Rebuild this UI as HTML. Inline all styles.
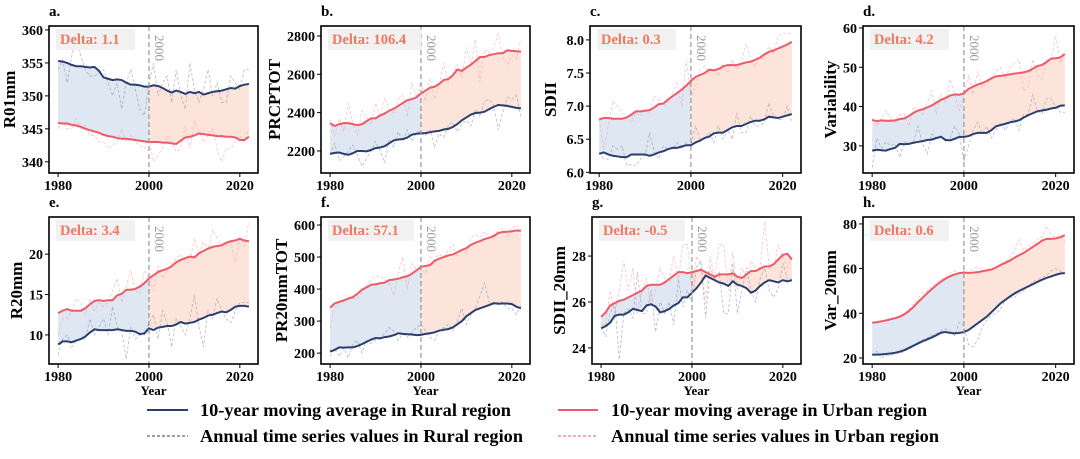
<!DOCTYPE html>
<html><head><meta charset="utf-8">
<style>
html,body{margin:0;padding:0;background:#fff;}
svg{display:block;font-family:"Liberation Serif",serif;}
</style></head>
<body>
<svg id="fig" width="1080" height="459" viewBox="0 0 1080 459" xmlns="http://www.w3.org/2000/svg"></svg>
<script>
const years = Array.from({length:43},(_,i)=>1980+i);
const xTicks = [1980,2000,2020];

const aRuralMA=[355.3,355.2,355,354.7,354.5,354.5,354.4,354.3,354.4,353.8,352.8,352.6,352.4,352.5,352.4,352,351.7,351.7,351.6,351.4,351.4,351.6,351.5,351.2,350.8,350.5,350.8,350.6,350.3,350.6,350.4,350.6,350.2,350.4,350.6,350.7,350.8,351,351.2,351.1,351.5,351.7,351.8];
const aUrbanMA=[345.9,345.8,345.8,345.6,345.5,345.3,345,344.8,344.6,344.4,344.1,343.9,343.8,343.6,343.5,343.5,343.4,343.3,343.2,343.1,343,343,343,342.9,342.9,342.8,342.7,343.2,343.7,343.8,344,344.3,344.2,344.1,344,343.9,343.9,343.8,343.8,343.7,343.3,343.3,343.8];
const aRuralAnn=[354,355.5,352,356,359.5,356,354,353,353,353.5,354,352,350,352,348,352,354,351,348,347,352,355,350,352,353,349,354,350,348,355,351,349,351,354,350,352,349,349,353,352,351,354,354];
const aUrbanAnn=[345,346,345,345,346.5,345,345.5,344,344,343,343,342,342.5,343,345,343,344,343,342.5,342,343.5,340,341,342,344,343,341.5,342,345.5,342,346,344.5,343,344,345,342,340,342,342,343,344,343,345];

const bRuralMA=[2185,2190,2192,2185,2180,2188,2200,2200,2198,2205,2215,2218,2225,2240,2255,2260,2262,2270,2285,2290,2292,2293,2298,2302,2305,2312,2315,2325,2340,2360,2375,2390,2398,2400,2405,2418,2430,2440,2438,2435,2430,2425,2422];
const bUrbanMA=[2345,2330,2340,2345,2345,2340,2335,2340,2355,2370,2370,2385,2395,2410,2420,2435,2450,2465,2470,2480,2500,2515,2530,2535,2550,2570,2575,2595,2625,2618,2635,2650,2670,2690,2690,2700,2705,2710,2710,2725,2722,2720,2718];
const bRuralAnn=[2180,2240,2150,2170,2200,2230,2180,2120,2160,2200,2250,2200,2140,2260,2220,2300,2250,2310,2250,2300,2300,2280,2310,2220,2290,2270,2330,2350,2300,2340,2360,2330,2420,2380,2460,2470,2440,2310,2400,2480,2470,2490,2380];
const bUrbanAnn=[2360,2280,2370,2300,2450,2340,2280,2410,2380,2340,2450,2380,2480,2420,2400,2470,2490,2380,2560,2480,2560,2460,2580,2470,2540,2660,2560,2600,2650,2580,2740,2650,2780,2560,2730,2710,2740,2810,2690,2650,2700,2680,2780];

const cRuralMA=[6.28,6.3,6.27,6.25,6.24,6.23,6.23,6.27,6.27,6.27,6.27,6.25,6.27,6.3,6.32,6.35,6.37,6.37,6.39,6.41,6.41,6.45,6.48,6.52,6.54,6.59,6.6,6.6,6.64,6.68,6.7,6.7,6.73,6.76,6.78,6.78,6.8,6.84,6.83,6.82,6.84,6.86,6.88];
const cUrbanMA=[6.8,6.82,6.82,6.81,6.81,6.81,6.83,6.87,6.92,6.92,6.93,6.94,6.98,7.03,7.04,7.1,7.15,7.2,7.25,7.31,7.38,7.44,7.47,7.5,7.55,7.54,7.56,7.6,7.62,7.62,7.62,7.64,7.66,7.67,7.7,7.73,7.78,7.82,7.84,7.87,7.9,7.93,7.97];
const cRuralAnn=[6.3,6.2,6.2,6.4,6.35,6.4,6.1,6.12,6.1,6.2,6.25,6.6,6.3,6.2,6.4,6.35,6.35,6.45,6.35,6.45,6.4,6.7,6.5,6.5,6.6,6.45,6.7,6.5,6.65,6.5,6.9,6.6,6.6,6.85,6.7,6.7,6.75,7.05,6.85,6.8,6.8,7.0,6.75];
const cUrbanAnn=[6.8,6.35,6.7,7.08,7.0,6.9,6.85,6.75,6.9,6.85,6.95,6.9,7.15,7.1,7.0,7.05,7.2,7.35,7.0,7.7,7.15,7.3,7.55,7.6,7.5,7.55,7.45,7.65,7.5,7.7,7.55,7.65,7.95,7.7,7.6,7.75,7.7,7.9,7.8,8.05,8.1,8.1,8.1];

const dRuralMA=[28.8,29,28.9,28.8,29.2,29.5,30.5,30.4,30.5,30.8,31,31.2,31.5,31.6,32,32.3,31.5,31.4,31.8,32.3,32.3,32.5,33,33.3,33.3,33.3,34,35,35.3,35.6,36,36.2,36.5,37.2,37.8,38.3,38.8,39,39.2,39.5,39.7,40.2,40.3];
const dUrbanMA=[36.6,36.3,36.5,36.4,36.4,36.5,36.8,37,37.6,38.4,39,39.3,39.8,40.3,41,41.7,42.2,42.8,43.1,43,43.4,44.5,45.1,45.6,46,46.5,47.2,47.7,47.8,48,48.2,48.4,48.5,48.7,49,49.6,50.3,50.6,51.3,52.2,52.3,52.5,53.4];
const dRuralAnn=[24.5,32,29.5,31,30,30.5,27,31,30.5,31,35,30.5,28,33,32,32.5,31,32,35,33,26,30,34,36,33,35,32,34,36,34,36,37,34,38,38,43,39,38,42,42,40,38.5,38.5];
const dUrbanAnn=[37,35,37,39,37,36,38,38,35,40,39,38,41,44,38,43,41,47,43,39,43,48,43,49,45,46,47,49,50,47,50,51,52,44,45,52,48,47,52,52,58,51,54];

const eRuralMA=[8.8,9.2,9.2,9.1,9.3,9.5,9.8,10.3,10.7,10.6,10.6,10.6,10.6,10.7,10.6,10.5,10.5,10.4,10.1,10.2,10.8,10.6,10.9,11,11.1,11.1,11.3,11.6,11.4,11.5,11.6,11.9,12.1,12.4,12.5,12.7,12.9,12.8,13.1,13.5,13.6,13.6,13.5];
const eUrbanMA=[12.7,13,13.2,13,13,13,13.3,13.8,14.2,14.3,14.2,14.3,14.3,14.9,15.1,15.6,15.6,15.7,16,16.4,17,17.4,17.8,18,18.2,18.5,19,19.3,19.5,19.7,19.6,20.1,20.4,20.7,20.9,21,21.1,21.4,21.6,21.7,21.9,21.7,21.6];
const eRuralAnn=[7.5,9.5,10,8.5,9.3,9.5,9.5,12,10,11,12,10,13.5,11,10.5,7,11,9.5,10,10,11.5,12.5,9.5,13,11.5,8.5,12,11,10,12,15,11,8.5,13,12,14.5,13,12,11.5,13,14,14,14];
const eUrbanAnn=[10,12,12,13,14.5,14,12.5,14.5,13,14,13.5,14,15.5,17,14,16,18,15.5,15,18,17,15.5,18.5,17,18,19,19.5,20,19,19,22,20,21.5,20.5,23,22,21,21,21.5,19,22,21,24];

const fRuralMA=[205,210,218,217,218,218,222,228,235,242,247,246,250,252,256,262,260,259,258,256,257,260,262,265,270,273,275,280,290,300,315,325,335,340,345,350,356,354,355,355,353,345,340];
const fUrbanMA=[342,355,360,365,370,375,385,398,405,413,415,418,420,428,430,432,437,440,448,458,470,472,475,488,495,500,505,508,515,522,528,538,545,550,556,560,565,575,578,579,580,583,582];
const fRuralAnn=[190,215,190,215,185,230,240,200,240,230,240,250,260,280,270,240,260,250,265,280,290,270,250,240,270,280,290,270,300,340,290,320,340,380,420,360,350,360,360,340,340,320,350];
const fUrbanAnn=[280,340,360,360,380,370,370,390,410,430,440,440,430,420,380,450,500,400,480,460,460,450,500,490,510,500,520,540,500,530,510,560,570,560,580,560,570,580,590,560,590,600,580];

const gRuralMA=[24.85,24.95,25.1,25.4,25.45,25.45,25.55,25.7,25.65,25.6,25.85,25.9,25.8,25.55,25.6,25.7,25.85,25.95,26.2,26.2,26.4,26.6,26.85,27.15,27.05,26.95,26.85,26.8,26.7,26.9,26.75,26.7,26.6,26.4,26.5,26.7,26.85,26.95,26.9,26.85,26.95,26.9,26.95];
const gUrbanMA=[25.35,25.55,25.85,25.95,26.05,26.1,26.2,26.3,26.4,26.5,26.7,26.75,26.75,26.75,26.85,27,27.15,27.3,27.3,27.25,27.3,27.35,27.4,27.3,27.2,27.1,27.2,27.2,27.2,27.25,27.1,27.05,27.2,27.35,27.35,27.45,27.55,27.55,27.65,27.85,28.05,28.1,27.85];
const gRuralAnn=[24.9,24.5,25.5,26,23.5,25.5,25.7,25.3,27.3,25.5,25.5,26.5,24.7,26,25.5,26,25,27,25.8,26.5,26,27.5,27.8,25.3,27.5,27,27.3,25.5,25.5,27.7,25.5,26.5,27.5,26.5,26,27,27.5,26.5,26.2,26.6,27.7,27,27];
const gUrbanAnn=[25,25,26.5,25.5,26.5,27.8,26.5,27.5,25.5,26.5,27,25.8,26.5,27.5,27,27,28,27,28.5,28.5,26.5,28,27.5,26,28,27,28.5,28.5,26.5,28.2,26.5,27.5,27,27.8,27.5,27.5,29.5,27.5,27.5,28.5,28,27.5,28];

const hRuralMA=[21.5,21.5,21.6,21.8,22,22.3,22.8,23.5,24.5,25.5,26.5,27.5,28.3,29.2,30.2,31.3,31.6,31.2,31,31.2,31.6,32.5,34,35.5,37,38.5,40.5,42.5,44.5,46,47.5,48.8,50,51,52,53,54,55,55.8,56.5,57.2,57.8,58];
const hUrbanMA=[35.8,36,36.4,36.8,37.3,37.8,38.5,39.5,41,42.8,45,47,49,50.8,52.6,54.2,55.5,56.6,57.4,58,58.2,58.1,58.2,58.4,58.8,59.2,59.6,60.5,61.6,62.6,63.6,64.8,66,67,68.3,69.7,71,72.5,73.3,73.3,73.5,74,75];
const hRuralAnn=[21,23,20,21,21,22,22,23,24,25,27,28,29,30,31,32,33,32,30,36,34,26,25,28,34,37,39,40,42,46,47,47,49,50,52,54,55,56,57,59,60,59,58];
const hUrbanAnn=[36,35.5,36.5,37,38,38,39,40,42,44,47,49,50,52,54,55,56,58,59,58,59,58,60,61,59,59,60,61,62,63,65,68,73,68,70,71,73,74,79,75,74,75,72];

const panelLetters=['a.','b.','c.','d.','e.','f.','g.','h.'];
const panelYLabels=['R01mm','PRCPTOT','SDII','Variability','R20mm','PR20mmTOT','SDII_20mm','Var_20mm'];
const panelDeltas=['Delta: 1.1','Delta: 106.4','Delta: 0.3','Delta: 4.2','Delta: 3.4','Delta: 57.1','Delta: -0.5','Delta: 0.6'];
const yTicksA=[340,345,350,355,360], yTicksB=[2200,2400,2600,2800], yTicksC=[6.0,6.5,7.0,7.5,8.0], yTicksD=[30,40,50,60];
const yTicksE=[10,15,20], yTicksF=[200,300,400,500,600], yTicksG=[24,26,28], yTicksH=[20,40,60,80];

const NS='http://www.w3.org/2000/svg';
const svg=document.getElementById('fig');
function mk(tag,attrs,parent){const e=document.createElementNS(NS,tag);for(const k in attrs)e.setAttribute(k,attrs[k]);(parent||svg).appendChild(e);return e;}

const panels=[
 {L:49,R:258,T:26,B:173,y0:338.3,y1:360.6,ticks:yTicksA,fmt:v=>v,ru:aRuralMA,ur:aUrbanMA,ra:aRuralAnn,ua:aUrbanAnn},
 {L:321,R:530,T:26,B:173,y0:2085,y1:2852,ticks:yTicksB,fmt:v=>v,ru:bRuralMA,ur:bUrbanMA,ra:bRuralAnn,ua:bUrbanAnn},
 {L:590,R:801,T:26,B:173,y0:5.99,y1:8.21,ticks:yTicksC,fmt:v=>v.toFixed(1),ru:cRuralMA,ur:cUrbanMA,ra:cRuralAnn,ua:cUrbanAnn},
 {L:863,R:1074,T:26,B:173,y0:23.1,y1:60.5,ticks:yTicksD,fmt:v=>v,ru:dRuralMA,ur:dUrbanMA,ra:dRuralAnn,ua:dUrbanAnn},
 {L:49,R:258,T:217,B:364,y0:6.4,y1:24.6,ticks:yTicksE,fmt:v=>v,ru:eRuralMA,ur:eUrbanMA,ra:eRuralAnn,ua:eUrbanAnn},
 {L:321,R:530,T:217,B:364,y0:166,y1:625,ticks:yTicksF,fmt:v=>v,ru:fRuralMA,ur:fUrbanMA,ra:fRuralAnn,ua:fUrbanAnn},
 {L:592,R:801,T:217,B:364,y0:23.3,y1:29.7,ticks:yTicksG,fmt:v=>v,ru:gRuralMA,ur:gUrbanMA,ra:gRuralAnn,ua:gUrbanAnn},
 {L:863,R:1074,T:217,B:364,y0:17.3,y1:83.1,ticks:yTicksH,fmt:v=>v,ru:hRuralMA,ur:hUrbanMA,ra:hRuralAnn,ua:hUrbanAnn}
];

panels.forEach((p,pi)=>{
  const g=mk('g',{});
  
  
  const xs=v=>p.L+(v-1978)/(2024-1978)*(p.R-p.L);
  const ys=v=>p.B-(v-p.y0)/(p.y1-p.y0)*(p.B-p.T);
  const clipId='clip'+pi;
  const cp=mk('clipPath',{id:clipId},g);mk('rect',{x:p.L,y:p.T,width:p.R-p.L,height:p.B-p.T},cp);
  const inner=mk('g',{'clip-path':'url(#'+clipId+')'},g);
  function band(from,to,color,name){
    const idx=years.map((y,i)=>i).filter(i=>years[i]>=from&&years[i]<=to);
    let d='M'+idx.map(i=>xs(years[i])+','+ys(p.ru[i])).join(' L');
    d+=' L'+idx.slice().reverse().map(i=>xs(years[i])+','+ys(p.ur[i])).join(' L')+' Z';
    const e=mk('path',{d:d,fill:color,stroke:'none'},inner);
    
    
  }
  band(1980,2000,'#dfe7f3','pre-2000-gap-fill');
  band(2000,2022,'#fde4da','post-2000-gap-fill');
  function line(arr,attrs,name){
    const d='M'+arr.map((v,i)=>xs(years[i])+','+ys(v)).join(' L');
    const e=mk('path',Object.assign({d:d,fill:'none'},attrs),inner);
    
    
  }
  line(p.ra,{stroke:'#8a93ad','stroke-width':0.8,'stroke-dasharray':'3,2',opacity:0.65},'rural-annual-line');
  line(p.ua,{stroke:'#f2a0ac','stroke-width':0.8,'stroke-dasharray':'3,2',opacity:0.65},'urban-annual-line');
  line(p.ru,{stroke:'#2b3f6e','stroke-width':2},'rural-moving-average-line');
  line(p.ur,{stroke:'#ef5a68','stroke-width':2},'urban-moving-average-line');
  const vl=mk('line',{x1:xs(2000),x2:xs(2000),y1:p.T,y2:p.B,stroke:'#999','stroke-width':1.2,'stroke-dasharray':'5,3'},g);
  
  
  const vt=mk('text',{x:0,y:0,transform:'translate('+(xs(2000)+6)+','+(p.T+9)+') rotate(90)','font-size':13,fill:'#999'},g);
  vt.textContent='2000';
  
  
  const txt=panelDeltas[pi];
  const bw=txt.length*7.1+8;
  const db=mk('rect',{x:p.L+7,y:p.T+3,width:bw,height:21,fill:'#efefef',opacity:0.9},g);
  
  
  const dt=mk('text',{x:p.L+11,y:p.T+18,'font-size':14.5,'font-weight':'bold',fill:'#f2775f'},g);
  dt.textContent=txt;
  
  
  const fr=mk('rect',{x:p.L,y:p.T,width:p.R-p.L,height:p.B-p.T,fill:'none',stroke:'#000','stroke-width':1.6},g);
  
  
  xTicks.forEach(t=>{
    mk('line',{x1:xs(t),x2:xs(t),y1:p.B,y2:p.B+4,stroke:'#000','stroke-width':1},g);
    const tt=mk('text',{x:xs(t),y:p.B+17,'text-anchor':'middle','font-size':14,'font-weight':'bold'},g);
    tt.textContent=t;
    
    
  });
  p.ticks.forEach(t=>{
    mk('line',{x1:p.L-4,x2:p.L,y1:ys(t),y2:ys(t),stroke:'#000','stroke-width':1},g);
    const tt=mk('text',{x:p.L-6,y:ys(t)+5,'text-anchor':'end','font-size':14,'font-weight':'bold'},g);
    tt.textContent=p.fmt(t);
    
    
  });
  const maxLen=Math.max(...p.ticks.map(t=>String(p.fmt(t)).length));
  const yl=mk('text',{x:0,y:0,transform:'translate('+(p.L-13-maxLen*7)+','+((p.T+p.B)/2)+') rotate(-90)','text-anchor':'middle','font-size':17,'font-weight':'bold'},g);
  yl.textContent=panelYLabels[pi];
  
  
  const pl=mk('text',{x:p.L,y:p.T-10,'font-size':15,'font-weight':'bold'},g);
  pl.textContent=panelLetters[pi];
  
  
  if(pi>=4){
    const xl=mk('text',{x:(p.L+p.R)/2,y:p.B+31,'text-anchor':'middle','font-size':13,'font-weight':'bold'},g);
    xl.textContent='Year';
    
    
  }
});

const legendItems=[
 {x1:147,x2:188,y:410,stroke:'#2b3f6e',w:2,dash:null,tx:200,text:'10-year moving average in Rural region',tl:311,name:'legend-rural-moving-average'},
 {x1:558,x2:598,y:410,stroke:'#ef5a68',w:2,dash:null,tx:611,text:'10-year moving average in Urban region',tl:316,name:'legend-urban-moving-average'},
 {x1:147,x2:188,y:436,stroke:'#2b3f6e',w:1,dash:'3,2',tx:200,text:'Annual time series values in Rural region',tl:323,name:'legend-rural-annual'},
 {x1:558,x2:598,y:436,stroke:'#ef5a68',w:1,dash:'3,2',tx:611,text:'Annual time series values in Urban region',tl:328,name:'legend-urban-annual'}
];
legendItems.forEach(it=>{
  const g=mk('g',{});
  
  
  const a={x1:it.x1,x2:it.x2,y1:it.y,y2:it.y,stroke:it.stroke,'stroke-width':it.w};
  if(it.dash)a['stroke-dasharray']=it.dash;
  mk('line',a,g);
  const t=mk('text',{x:it.tx,y:it.y+6,'font-size':18,'font-weight':'bold',textLength:it.tl,lengthAdjust:'spacingAndGlyphs'},g);
  t.textContent=it.text;
});
</script>
</body></html>
